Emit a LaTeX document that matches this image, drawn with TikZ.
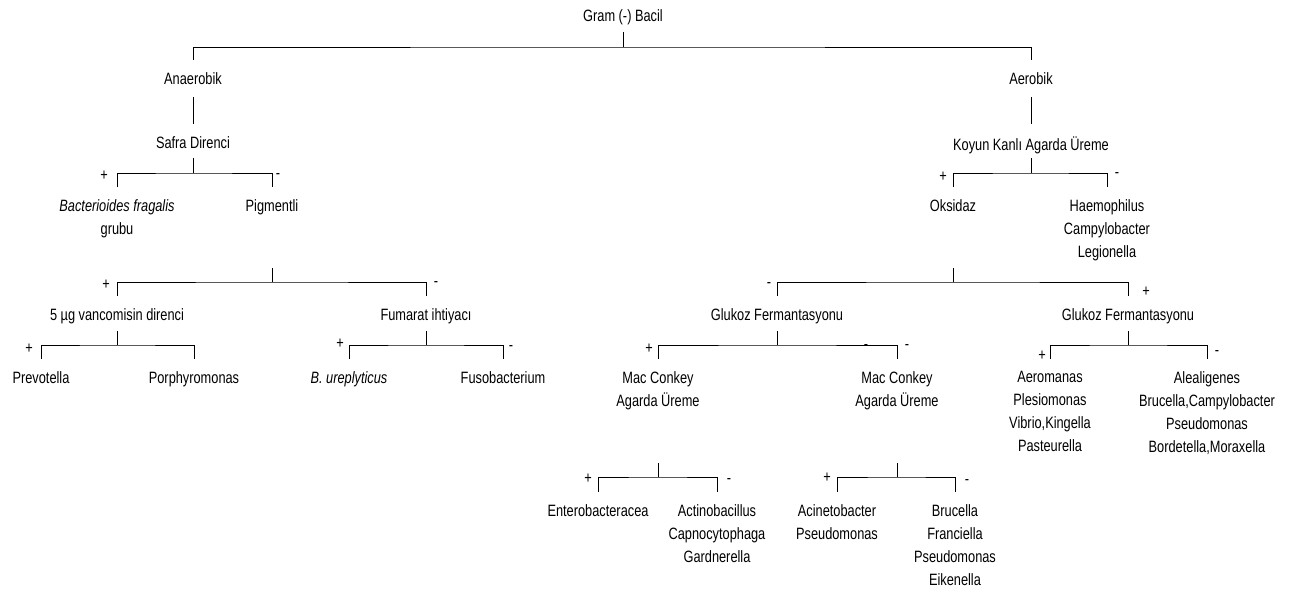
\documentclass[tikz,border=0pt]{standalone}
\usepackage{fontspec}
\newfontfamily\treefont{Liberation Sans}[FakeStretch=0.78]
\begin{document}
\begin{tikzpicture}[x=0.5pt, y=-0.5pt,
    txt/.style={font=\treefont\fontsize{8.2}{11.5}\selectfont, align=center,
                inner sep=0pt, anchor=north},
    sgn/.style={font=\treefont\fontsize{8.2}{11.5}\selectfont, inner sep=0pt},
    link/.style={line width=0.5pt}
  ]
  \useasboundingbox (0,0) rectangle (1307,595);

  % labels
  \node[txt] (root) at (623,9) {Gram (-) Bacil};
  \node[txt] (anaer) at (193,72) {Anaerobik};
  \node[txt] (aer) at (1031,72) {Aerobik};
  \node[txt] (safra) at (193,136) {Safra Direnci};
  \node[txt] (koyun) at (1031,136) {Koyun Kanlı Agarda Üreme};
  \node[txt] (bact) at (117,199) {{\itshape Bacterioides fragalis}\\grubu};
  \node[txt] (pigm) at (272,199) {Pigmentli};
  \node[txt] (oks) at (953,199) {Oksidaz};
  \node[txt] (haem) at (1107,199) {Haemophilus\\Campylobacter\\Legionella};
  \node[txt] (vanc) at (117,308) {5 µg vancomisin direnci};
  \node[txt] (fum) at (426,308) {Fumarat ihtiyacı};
  \node[txt] (glua) at (777,308) {Glukoz Fermantasyonu};
  \node[txt] (glub) at (1128,308) {Glukoz Fermantasyonu};
  \node[txt] (prev) at (41,371) {Prevotella};
  \node[txt] (porph) at (194,371) {Porphyromonas};
  \node[txt] (bure) at (349,371) {\itshape B. ureplyticus};
  \node[txt] (fuso) at (503,371) {Fusobacterium};
  \node[txt] (maca) at (658,371) {Mac Conkey\\Agarda Üreme};
  \node[txt] (macb) at (897,371) {Mac Conkey\\Agarda Üreme};
  \node[txt] (aerom) at (1050,371) {Aeromanas\\Plesiomonas\\Vibrio,Kingella\\Pasteurella};
  \node[txt] (aleal) at (1207,371) {Alealigenes\\Brucella,Campylobacter\\Pseudomonas\\Bordetella,Moraxella};
  \node[txt] (entero) at (598,504) {Enterobacteracea};
  \node[txt] (actino) at (717,504) {Actinobacillus\\Capnocytophaga\\Gardnerella};
  \node[txt] (acin) at (837,504) {Acinetobacter\\Pseudomonas};
  \node[txt] (bruc) at (955,504) {Brucella\\Franciella\\Pseudomonas\\Eikenella};

  % fork points
  \coordinate (s0) at (623,32);   \coordinate (f0) at (623,47);
  \coordinate (s1) at (193,158);  \coordinate (f1) at (193,173);
  \coordinate (s2) at (1031,158); \coordinate (f2) at (1031,173);
  \coordinate (s3) at (272,268);  \coordinate (f3) at (272,282);
  \coordinate (s4) at (953,268);  \coordinate (f4) at (953,282);
  \coordinate (s5) at (117,331);  \coordinate (f5) at (117,345);
  \coordinate (s6) at (426,331);  \coordinate (f6) at (426,345);
  \coordinate (s7) at (777,331);  \coordinate (f7) at (777,345);
  \coordinate (s8) at (1128,331); \coordinate (f8) at (1128,345);
  \coordinate (s9) at (658,463);  \coordinate (f9) at (658,477);
  \coordinate (s10) at (897,463); \coordinate (f10) at (897,477);

  % connectors
  \draw[link] (s0) -- (f0);
  \draw[link] ([yshift=6pt]anaer.north) |- (f0) -| ([yshift=6pt]aer.north);
  \draw[link] ([yshift=-6pt]anaer.south) -- ([yshift=6pt]safra.north);
  \draw[link] ([yshift=-6pt]aer.south) -- ([yshift=6pt]koyun.north);
  \draw[link] (s1) -- (f1);
  \draw[link] ([yshift=6pt]bact.north) |- (f1) -| ([yshift=6pt]pigm.north);
  \draw[link] (s2) -- (f2);
  \draw[link] ([yshift=6pt]oks.north) |- (f2) -| ([yshift=6pt]haem.north);
  \draw[link] (s3) -- (f3);
  \draw[link] ([yshift=6pt]vanc.north) |- (f3) -| ([yshift=6pt]fum.north);
  \draw[link] (s4) -- (f4);
  \draw[link] ([yshift=6pt]glua.north) |- (f4) -| ([yshift=6pt]glub.north);
  \draw[link] (s5) -- (f5);
  \draw[link] ([yshift=6pt]prev.north) |- (f5) -| ([yshift=6pt]porph.north);
  \draw[link] (s6) -- (f6);
  \draw[link] ([yshift=6pt]bure.north) |- (f6) -| ([yshift=6pt]fuso.north);
  \draw[link] (s7) -- (f7);
  \draw[link] ([yshift=6pt]maca.north) |- (f7) -| ([yshift=6pt]macb.north);
  \draw[link] (s8) -- (f8);
  \draw[link] ([yshift=6pt]aerom.north) |- (f8) -| ([yshift=6pt]aleal.north);
  \draw[link] (s9) -- (f9);
  \draw[link] ([yshift=6pt]entero.north) |- (f9) -| ([yshift=6pt]actino.north);
  \draw[link] (s10) -- (f10);
  \draw[link] ([yshift=6pt]acin.north) |- (f10) -| ([yshift=6pt]bruc.north);

  % signs
  \node[sgn] (p1) at (104,176) {+};   \node[sgn] (m1) at (278,176) {-};
  \node[sgn] (p2) at (943,177) {+};   \node[sgn] (m2) at (1117,175) {-};
  \node[sgn] (p3) at (106,285) {+};   \node[sgn] (m3) at (436,284) {-};
  \node[sgn] (m4) at (769,285) {-};   \node[sgn] (p4) at (1146,292) {+};
  \node[sgn] (p5) at (29,349) {+};
  \node[sgn] (p6) at (340,344) {+};   \node[sgn] (m6) at (511,348) {-};
  \node[sgn] (p7) at (649,349) {+};   \node[sgn] (m7x) at (866,347) {-};
  \node[sgn] (m7) at (907,347) {-};
  \node[sgn] (p8) at (1042,356) {+};  \node[sgn] (m8) at (1217,353) {-};
  \node[sgn] (p9) at (588,479) {+};   \node[sgn] (m9) at (729,481) {-};
  \node[sgn] (p10) at (827,478) {+};  \node[sgn] (m10) at (967,482) {-};
\end{tikzpicture}
\end{document}
